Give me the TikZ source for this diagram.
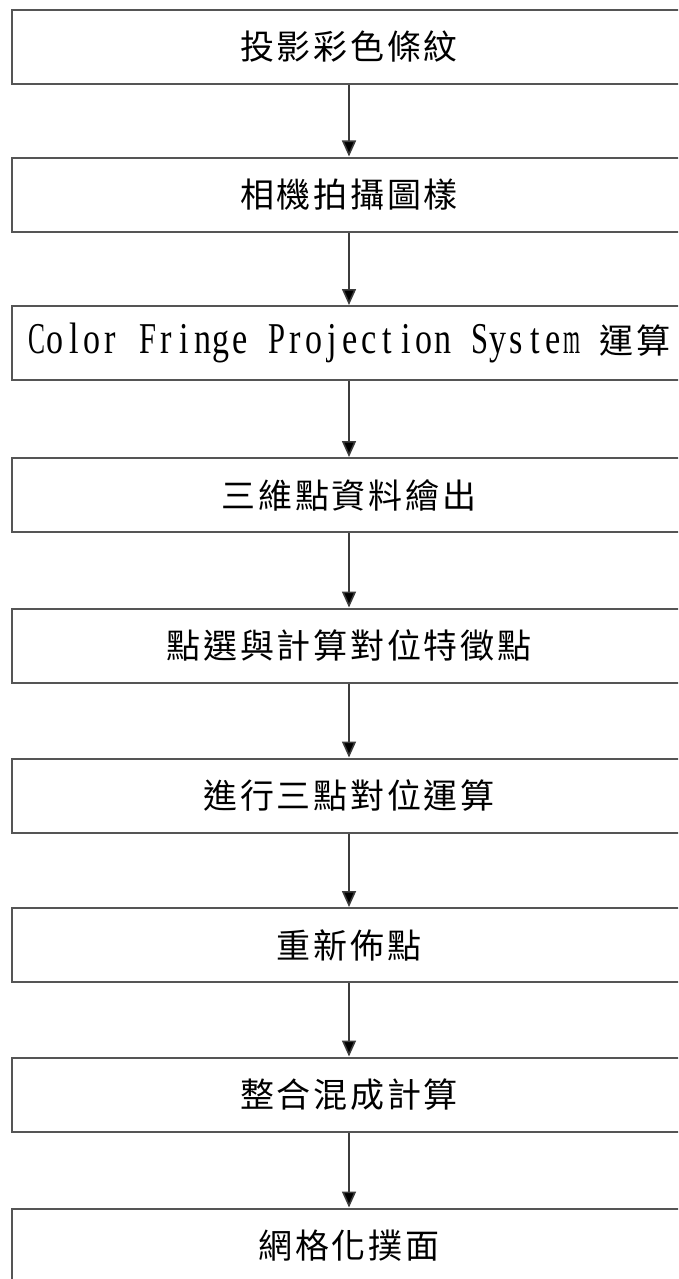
\documentclass[tikz,border=0pt]{standalone}
\usepackage{fontspec}
\usepackage{graphicx}
\usetikzlibrary{arrows.meta}
\newfontfamily\cjk[LetterSpace=8]{Noto Sans CJK TC}
\newfontfamily\lat[FakeStretch=0.78]{Liberation Serif}
\definecolor{boxline}{RGB}{85,85,85}
\definecolor{arrowline}{RGB}{60,60,60}
% fixed-pitch setting of Latin letters: one cell per character,
% letters wider than the cell are squeezed to fit
\newlength\cellw
\setlength\cellw{18.45pt}
\newlength\maxw
\setlength\maxw{17pt}
\newsavebox\cellbox
\newcommand\monocell[1]{\sbox\cellbox{#1}%
  \ifdim\wd\cellbox>\maxw
    \makebox[\cellw][c]{\resizebox{\maxw}{\height}{#1}}%
  \else
    \makebox[\cellw][c]{#1}%
  \fi}
\def\monoloop#1{\ifx#1\relax\else\monocell{#1}\expandafter\monoloop\fi}
\newcommand\mono[1]{{\lat\fontsize{44pt}{50pt}\selectfont\monoloop#1\relax}}
\newcommand\monosp{\hspace*{\cellw}}
\tikzset{
  stepbox/.style={draw=boxline, line width=2pt, rectangle, fill=white,
    minimum width=674pt, minimum height=74pt, inner sep=0pt,
    font=\cjk\fontsize{34pt}{40pt}\selectfont},
  flow/.style={draw=arrowline, line width=1.6pt,
    -{Triangle[length=16pt,width=14pt,fill=black]}}
}
\begin{document}
\begin{tikzpicture}[x=1pt,y=1pt]
\useasboundingbox (0,0) rectangle (678,-1279);
\fill[white] (0,0) rectangle (678,-1279);
\clip (0,0) rectangle (678,-1279);

\node[stepbox] (b1) at (349,-47)     {投影彩色條紋};
\node[stepbox] (b2) at (349,-194.5)  {相機拍攝圖樣};
\node[stepbox] (b3) at (349,-343)    {\mono{Color}\monosp\mono{Fringe}\monosp\mono{Projection}\monosp\mono{System}\monosp 運算};
\node[stepbox] (b4) at (349,-495)    {三維點資料繪出};
\node[stepbox] (b5) at (349,-645.5)  {點選與計算對位特徵點};
\node[stepbox] (b6) at (349,-795.5)  {進行三點對位運算};
\node[stepbox] (b7) at (349,-945)    {重新佈點};
\node[stepbox] (b8) at (349,-1094.5) {整合混成計算};
\node[stepbox] (b9) at (349,-1245.5) {網格化撲面};

\foreach \a/\b in {b1/b2,b2/b3,b3/b4,b4/b5,b5/b6,b6/b7,b7/b8,b8/b9}
  \draw[flow] (\a.south) -- (\b.north);
\end{tikzpicture}
\end{document}
